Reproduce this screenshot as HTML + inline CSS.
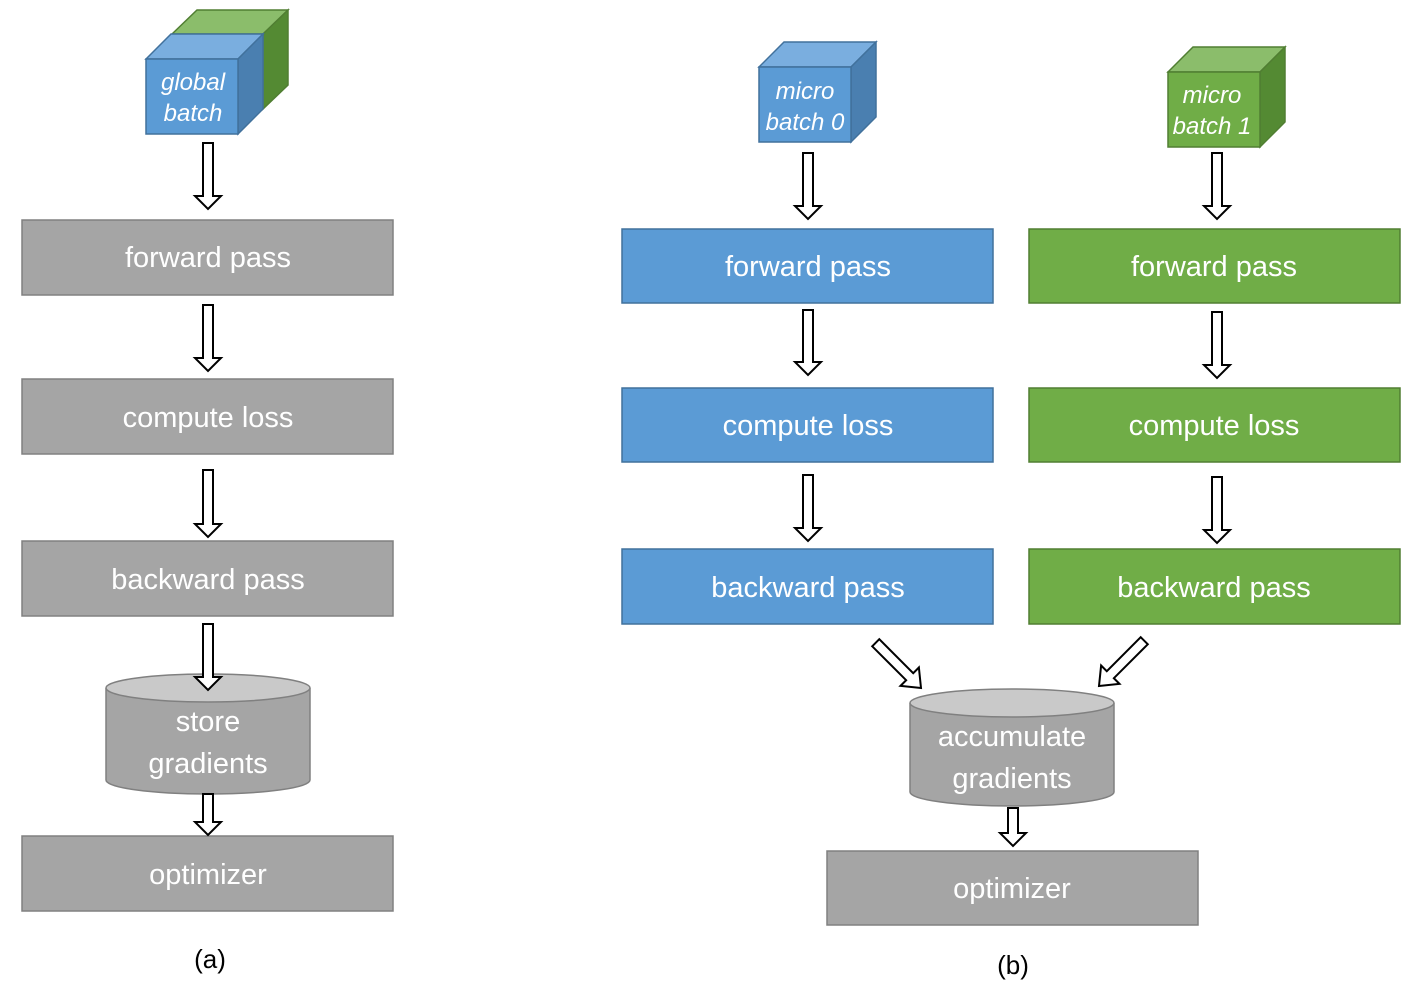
<!DOCTYPE html>
<html><head><meta charset="utf-8"><style>
html,body{margin:0;padding:0;background:#fff;}
svg text{font-family:"Liberation Sans","DejaVu Sans",sans-serif;}
</style></head><body>
<svg width="1420" height="984" viewBox="0 0 1420 984" xmlns="http://www.w3.org/2000/svg">
<g stroke-linejoin="miter">
<polygon points="172,34 197,10 288,10 263,34" fill="#8bbd6b" stroke="#507e32" stroke-width="1.5"/>
<polygon points="263,34 288,10 288,85 263,109" fill="#548a33" stroke="#507e32" stroke-width="1.5"/>
<polygon points="146,59 171,34 263,34 238,59" fill="#7aaedf" stroke="#41719c" stroke-width="1.5"/>
<polygon points="238,59 263,34 263,109 238,134" fill="#4a7fb0" stroke="#41719c" stroke-width="1.5"/>
<rect x="146" y="59" width="92" height="75" fill="#5b9bd5" stroke="#41719c" stroke-width="1.5"/>
<text x="193" y="90" font-size="24" font-style="italic" fill="#fff" text-anchor="middle">global</text>
<text x="193" y="121" font-size="24" font-style="italic" fill="#fff" text-anchor="middle">batch</text>

<polygon points="759,67 784,42 876,42 851,67" fill="#7aaedf" stroke="#41719c" stroke-width="1.5"/>
<polygon points="851,67 876,42 876,117 851,142" fill="#4a7fb0" stroke="#41719c" stroke-width="1.5"/>
<rect x="759" y="67" width="92" height="75" fill="#5b9bd5" stroke="#41719c" stroke-width="1.5"/>
<text x="805" y="99" font-size="24" font-style="italic" fill="#fff" text-anchor="middle">micro</text>
<text x="805" y="130" font-size="24" font-style="italic" fill="#fff" text-anchor="middle">batch 0</text>

<polygon points="1168,72 1193,47 1285,47 1260,72" fill="#8bbd6b" stroke="#507e32" stroke-width="1.5"/>
<polygon points="1260,72 1285,47 1285,122 1260,147" fill="#548a33" stroke="#507e32" stroke-width="1.5"/>
<rect x="1168" y="72" width="92" height="75" fill="#70ad47" stroke="#507e32" stroke-width="1.5"/>
<text x="1212" y="103" font-size="24" font-style="italic" fill="#fff" text-anchor="middle">micro</text>
<text x="1212" y="134" font-size="24" font-style="italic" fill="#fff" text-anchor="middle">batch 1</text>
</g>

<g font-size="29" fill="#fff" text-anchor="middle">
<rect x="22" y="220" width="371" height="75" fill="#a5a5a5" stroke="#808080" stroke-width="1.5"/>
<text x="208" y="267">forward pass</text>
<rect x="22" y="379" width="371" height="75" fill="#a5a5a5" stroke="#808080" stroke-width="1.5"/>
<text x="208" y="427">compute loss</text>
<rect x="22" y="541" width="371" height="75" fill="#a5a5a5" stroke="#808080" stroke-width="1.5"/>
<text x="208" y="589">backward pass</text>
<rect x="22" y="836" width="371" height="75" fill="#a5a5a5" stroke="#808080" stroke-width="1.5"/>
<text x="208" y="884">optimizer</text>

<path d="M106,688 L106,780 A102,14 0 0 0 310,780 L310,688" fill="#a5a5a5" stroke="#808080" stroke-width="1.5"/>
<ellipse cx="208" cy="688" rx="102" ry="14" fill="#c9c9c9" stroke="#808080" stroke-width="1.5"/>
<text x="208" y="731">store</text>
<text x="208" y="773">gradients</text>

<rect x="622" y="229" width="371" height="74" fill="#5b9bd5" stroke="#41719c" stroke-width="1.5"/>
<text x="808" y="276">forward pass</text>
<rect x="622" y="388" width="371" height="74" fill="#5b9bd5" stroke="#41719c" stroke-width="1.5"/>
<text x="808" y="435">compute loss</text>
<rect x="622" y="549" width="371" height="75" fill="#5b9bd5" stroke="#41719c" stroke-width="1.5"/>
<text x="808" y="597">backward pass</text>
<rect x="1029" y="229" width="371" height="74" fill="#70ad47" stroke="#507e32" stroke-width="1.5"/>
<text x="1214" y="276">forward pass</text>
<rect x="1029" y="388" width="371" height="74" fill="#70ad47" stroke="#507e32" stroke-width="1.5"/>
<text x="1214" y="435">compute loss</text>
<rect x="1029" y="549" width="371" height="75" fill="#70ad47" stroke="#507e32" stroke-width="1.5"/>
<text x="1214" y="597">backward pass</text>

<path d="M910,703 L910,792 A102,14 0 0 0 1114,792 L1114,703" fill="#a5a5a5" stroke="#808080" stroke-width="1.5"/>
<ellipse cx="1012" cy="703" rx="102" ry="14" fill="#c9c9c9" stroke="#808080" stroke-width="1.5"/>
<text x="1012" y="746">accumulate</text>
<text x="1012" y="788">gradients</text>

<rect x="827" y="851" width="371" height="74" fill="#a5a5a5" stroke="#808080" stroke-width="1.5"/>
<text x="1012" y="898">optimizer</text>
</g>

<g fill="#000" font-size="26" text-anchor="middle">
<text x="210" y="968">(a)</text>
<text x="1013" y="974">(b)</text>
</g>

<g fill="#fff" stroke="#000" stroke-width="2" stroke-linejoin="miter">
<path d="M203,143 L213,143 L213,196 L221,196 L208,209 L195,196 L203,196 Z"/>
<path d="M203,305 L213,305 L213,358 L221,358 L208,371 L195,358 L203,358 Z"/>
<path d="M203,470 L213,470 L213,524 L221,524 L208,537 L195,524 L203,524 Z"/>
<path d="M203,624 L213,624 L213,677 L221,677 L208,690 L195,677 L203,677 Z"/>
<path d="M203,794 L213,794 L213,822 L221,822 L208,835 L195,822 L203,822 Z"/>

<path d="M803,153 L813,153 L813,206 L821,206 L808,219 L795,206 L803,206 Z"/>
<path d="M803,310 L813,310 L813,362 L821,362 L808,375 L795,362 L803,362 Z"/>
<path d="M803,475 L813,475 L813,528 L821,528 L808,541 L795,528 L803,528 Z"/>

<path d="M1212,153 L1222,153 L1222,206 L1230,206 L1217,219 L1204,206 L1212,206 Z"/>
<path d="M1212,312 L1222,312 L1222,365 L1230,365 L1217,378 L1204,365 L1212,365 Z"/>
<path d="M1212,477 L1222,477 L1222,530 L1230,530 L1217,543 L1204,530 L1212,530 Z"/>

<path d="M1008,808 L1018,808 L1018,833 L1026,833 L1013,846 L1000,833 L1008,833 Z"/>

<g transform="translate(921,688) rotate(-45)">
<path d="M-5,-64 L5,-64 L5,-16 L13,-16 L0,0 L-13,-16 L-5,-16 Z"/>
</g>
<g transform="translate(1099,686) rotate(45)">
<path d="M-5,-64 L5,-64 L5,-16 L13,-16 L0,0 L-13,-16 L-5,-16 Z"/>
</g>
</g>
</svg>
</body></html>
